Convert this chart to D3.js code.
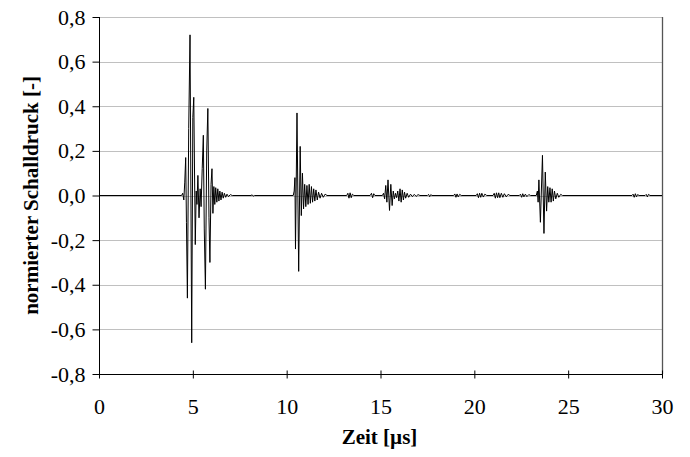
<!DOCTYPE html>
<html><head><meta charset="utf-8">
<script src="https://cdn.jsdelivr.net/npm/d3@7"></script>
<style>
body{margin:0;background:#fff;}
svg text{font-family:"Liberation Serif",serif !important;}
</style></head>
<body><svg id="c" width="690" height="457"></svg>
<script>
// ---- data: time [µs], normalized sound pressure [-] ----
const echo1 = [[0,0],[4.40,0],[4.46,0.01],[4.52,-0.02],[4.57,0.06],[4.62,0.17],[4.66,-0.12],[4.71,-0.46],[4.78,0.30],[4.85,0.72],[4.94,-0.66],[5.00,0.35],[5.05,0.44],[5.13,-0.22],[5.18,0.02],[5.22,-0.04],[5.27,0.09],[5.33,-0.10],[5.39,0.03],[5.44,-0.05],[5.50,0.12],[5.56,0.27],[5.61,-0.15],[5.67,-0.42],[5.74,0.20],[5.80,0.39],[5.86,-0.10],[5.91,-0.30],[5.97,0.05],[6.02,0.12],[6.07,-0.08],[6.12,0.04],[6.17,-0.04],[6.22,0.035],[6.28,-0.03],[6.33,0.03],[6.39,-0.025],[6.44,0.02],[6.50,-0.02],[6.56,0.015],[6.62,-0.012],[6.68,0.01],[6.75,-0.008],[6.82,0.006],[6.90,-0.005],[7.00,0.004],[7.10,0],[8.10,0],[8.16,0.003],[8.22,-0.003],[8.28,0]];
const echo2 = [[10.35,0],[10.40,0.02],[10.44,0.08],[10.47,-0.24],[10.55,0.37],[10.64,-0.34],[10.72,0.22],[10.78,-0.09],[10.84,0.10],[10.90,-0.06],[10.96,0.05],[11.02,-0.05],[11.08,0.045],[11.14,-0.04],[11.20,0.05],[11.26,-0.035],[11.32,0.04],[11.38,-0.03],[11.44,0.03],[11.50,-0.025],[11.56,0.025],[11.63,-0.02],[11.70,0.015],[11.78,-0.012],[11.86,0.01],[11.95,-0.008],[12.05,0.006],[12.15,0],[13.20,0],[13.26,0.01],[13.32,-0.012],[13.38,0.012],[13.44,-0.01],[13.50,0.006],[13.58,0]];
const echo3 = [[14.45,0],[14.52,0.01],[14.58,-0.01],[14.64,0.008],[14.70,0],[15.10,0],[15.16,0.01],[15.22,-0.015],[15.28,0.045],[15.34,-0.03],[15.40,0.07],[15.48,-0.067],[15.55,0.05],[15.62,-0.045],[15.68,0.02],[15.74,-0.015],[15.80,0.01],[15.86,-0.01],[15.92,0.02],[15.98,-0.025],[16.04,0.03],[16.10,-0.03],[16.16,0.025],[16.22,-0.02],[16.28,0.015],[16.34,-0.012],[16.42,0.01],[16.50,-0.008],[16.60,0.006],[16.70,-0.005],[16.80,0.005],[16.90,-0.004],[17.00,0.004],[17.10,0],[17.50,0],[17.56,0.005],[17.62,-0.005],[17.68,0.004],[17.74,0],[18.90,0],[18.96,0.007],[19.02,-0.008],[19.08,0.007],[19.14,-0.006],[19.22,0.005],[19.30,0],[20.10,0],[20.16,0.008],[20.22,-0.01],[20.28,0.01],[20.34,-0.008],[20.40,0.01],[20.48,-0.007],[20.56,0.006],[20.66,0],[21.00,0],[21.06,0.01],[21.12,-0.012],[21.18,0.012],[21.24,-0.01],[21.30,0.012],[21.36,-0.01],[21.44,0.01],[21.52,-0.008],[21.60,0.008],[21.70,-0.006],[21.80,0.005],[21.90,0],[22.40,0],[22.46,0.006],[22.52,-0.008],[22.58,0.008],[22.64,-0.006],[22.72,0.006],[22.80,-0.005],[22.90,0.004],[23.00,0]];
const echo4 = [[23.30,0],[23.36,0.02],[23.40,-0.03],[23.44,0.07],[23.52,-0.12],[23.63,0.18],[23.71,-0.17],[23.78,0.105],[23.85,-0.07],[23.91,0.04],[23.97,-0.03],[24.03,0.035],[24.09,-0.03],[24.15,0.03],[24.21,-0.025],[24.27,0.02],[24.34,-0.015],[24.42,0.01],[24.50,-0.008],[24.60,0.005],[24.70,0],[28.40,0],[28.46,0.006],[28.52,-0.008],[28.58,0.008],[28.64,-0.006],[28.70,0.004],[28.78,0],[29.10,0],[29.16,0.005],[29.22,-0.006],[29.28,0.005],[29.36,0],[30,0]];
const xTicks = [0,5,10,15,20,25,30];
const yTicks = [-0.8,-0.6,-0.4,-0.2,0,0.2,0.4,0.6,0.8];
const xTitle = "Zeit [µs]";
const yTitle = "normierter Schalldruck [-]";

const signal = [].concat(echo1, echo2, echo3, echo4);
const FONT = "Liberation Serif";

const svg = d3.select("#c");
const L = 99, R = 662, T = 17, B = 374;
const x = d3.scaleLinear().domain([0,30]).range([L,R]);
const y = d3.scaleLinear().domain([-0.8,0.8]).range([B,T]);
const fmt = d => d3.format(".1f")(d).replace(".", ",").replace("−","-");

// grid
svg.append("g").selectAll("line").data(yTicks.filter(v => v > -0.8))
  .join("line")
  .attr("x1", L).attr("x2", R)
  .attr("y1", d => Math.round(y(d)) + 0.5).attr("y2", d => Math.round(y(d)) + 0.5)
  .attr("stroke", "#c0c0c0").attr("stroke-width", 1);

// right frame
svg.append("line").attr("x1", R+0.5).attr("x2", R+0.5).attr("y1", T).attr("y2", B)
  .attr("stroke", "#555").attr("stroke-width", 1.3);

// signal
svg.append("path").datum(signal)
  .attr("fill", "none").attr("stroke", "#000").attr("stroke-width", 1)
  .attr("d", d3.line().x(d => x(d[0])).y(d => y(d[1])));

// y axis
const ya = svg.append("g").attr("transform", `translate(${L+0.5},0)`)
  .call(d3.axisLeft(y).tickValues(yTicks).tickFormat(fmt).tickSize(7).tickPadding(7));
ya.attr("font-family", FONT).attr("font-size", 22);
ya.selectAll("text").attr("fill", "#000").attr("font-family", FONT);
ya.selectAll("line,path").attr("stroke", "#000");
ya.select(".domain").attr("d", `M0,${T}V${B}`);

// x axis
const xa = svg.append("g").attr("transform", `translate(0,${B+0.5})`)
  .call(d3.axisBottom(x).tickValues(xTicks).tickFormat(d3.format("d")).tickSize(4).tickPadding(20));
xa.attr("font-family", FONT).attr("font-size", 22);
xa.selectAll(".tick line").attr("y1", -4);
xa.selectAll("text").attr("fill", "#000").attr("font-family", FONT);
xa.selectAll("line,path").attr("stroke", "#000");
xa.select(".domain").attr("d", `M${L},0H${R}`);

// titles
svg.append("text").attr("x", (L+R)/2 - 1).attr("y", 444).attr("text-anchor", "middle")
  .attr("font-family", FONT).attr("font-size", 21).attr("font-weight", "bold").text(xTitle);
svg.append("text").attr("transform", `translate(38,${(T+B)/2}) rotate(-90)`)
  .attr("text-anchor", "middle")
  .attr("font-family", FONT).attr("font-size", 21).attr("font-weight", "bold").text(yTitle);
</script></body></html>
